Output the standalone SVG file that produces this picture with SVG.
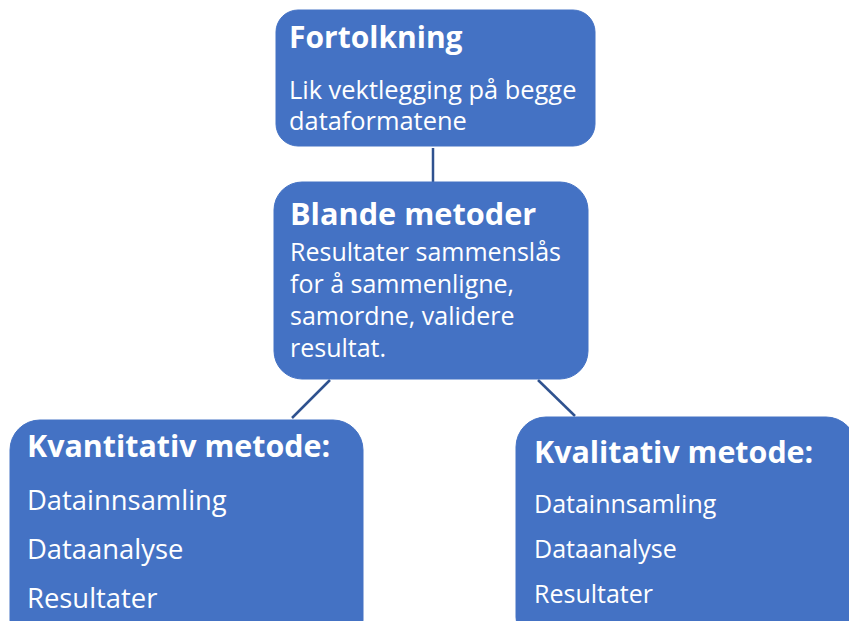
<svg xmlns="http://www.w3.org/2000/svg" width="849" height="621" viewBox="0 0 849 621">
  <style>
    .box { fill: #4472C4; stroke: #4472C4; stroke-width: 1; }
    .t { font-family: "Open Sans", "Liberation Sans", sans-serif; fill: #FFFFFF; }
    .h { font-weight: bold; }
    .link { stroke: #2F528F; stroke-width: 2.5; fill: none; }
  </style>
  <rect width="849" height="621" fill="#FFFFFF"/>
  <g id="connectors">
    <line class="link" x1="433" y1="148" x2="433" y2="182"/>
    <line class="link" x1="330" y1="380" x2="292" y2="418"/>
    <line class="link" x1="538" y1="380" x2="575" y2="416"/>
  </g>
  <g id="fortolkning">
    <rect class="box" x="276" y="10" width="319" height="136" rx="22"/>
    <text class="t h" x="289" y="48" font-size="30">Fortolkning</text>
    <text class="t" x="289" y="99" font-size="25.4">Lik vektlegging på begge</text>
    <text class="t" x="289" y="130" font-size="25.4">dataformatene</text>
  </g>
  <g id="blande-metoder">
    <rect class="box" x="274" y="182" width="314" height="197" rx="28"/>
    <text class="t h" x="290" y="225" font-size="30.7">Blande metoder</text>
    <text class="t" x="290" y="261" font-size="25">Resultater sammenslås</text>
    <text class="t" x="290" y="293" font-size="25">for å sammenligne,</text>
    <text class="t" x="290" y="325" font-size="25">samordne, validere</text>
    <text class="t" x="290" y="357" font-size="25">resultat.</text>
  </g>
  <g id="kvantitativ-metode">
    <rect class="box" x="10" y="420" width="353" height="230" rx="30"/>
    <text class="t h" x="27" y="457" font-size="30.4">Kvantitativ metode:</text>
    <text class="t" x="27" y="510" font-size="27.4">Datainnsamling</text>
    <text class="t" x="27" y="559" font-size="27.4">Dataanalyse</text>
    <text class="t" x="27" y="608" font-size="27.4">Resultater</text>
  </g>
  <g id="kvalitativ-metode">
    <rect class="box" x="516" y="417" width="340" height="230" rx="30"/>
    <text class="t h" x="534" y="463" font-size="30.4">Kvalitativ metode:</text>
    <text class="t" x="534" y="513" font-size="25">Datainnsamling</text>
    <text class="t" x="534" y="558" font-size="25">Dataanalyse</text>
    <text class="t" x="534" y="603" font-size="25">Resultater</text>
  </g>
</svg>
